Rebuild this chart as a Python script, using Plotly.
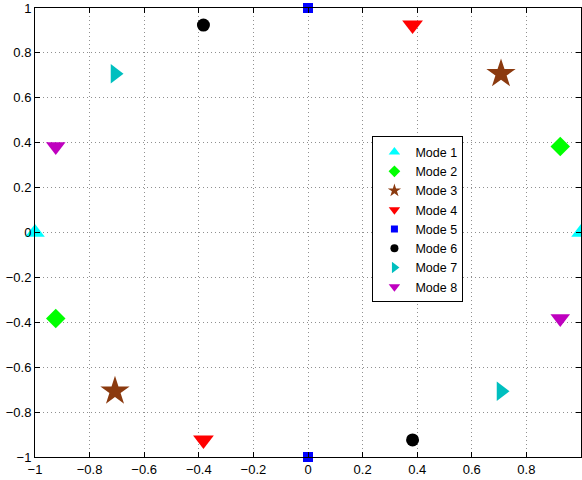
import plotly.graph_objects as go

modes = ["Mode 1", "Mode 2", "Mode 3", "Mode 4", "Mode 5", "Mode 6", "Mode 7", "Mode 8"]
xs = [[-1.0, 1.0], [0.924, -0.924], [0.707, -0.707], [0.383, -0.383],
      [0.0, 0.0], [-0.383, 0.383], [-0.707, 0.707], [-0.924, 0.924]]
ys = [[0.0, 0.0], [0.383, -0.383], [0.707, -0.707], [0.924, -0.924],
      [1.0, -1.0], [0.924, -0.924], [0.707, -0.707], [0.383, -0.383]]
symbols = ["triangle-up", "diamond", "star", "triangle-down", "square", "circle", "triangle-right", "triangle-down"]
colors = ["#00FFFF", "#00FF00", "#8B3A0F", "#FF0000", "#0000FF", "#000000", "#00BFBF", "#BF00BF"]
sizes = [17, 15, 22, 18, 10, 13, 17, 17]
legend_sizes = [10, 9, 10, 10, 7, 8, 10, 10]
tickvals = [-1, -0.8, -0.6, -0.4, -0.2, 0, 0.2, 0.4, 0.6, 0.8, 1]
ticktext = ["\u22121", "\u22120.8", "\u22120.6", "\u22120.4", "\u22120.2", "0", "0.2", "0.4", "0.6", "0.8", "1"]

fig = go.Figure()
for m, x, y, s, c, z, lz in zip(modes, xs, ys, symbols, colors, sizes, legend_sizes):
    fig.add_trace(go.Scatter(x=x, y=y, mode="markers", name=m, cliponaxis=False, showlegend=False,
                             marker=dict(symbol=s, color=c, size=z, line=dict(width=0))))
    fig.add_trace(go.Scatter(x=[None], y=[None], mode="markers", name=m, showlegend=True,
                             marker=dict(symbol=s, color=c, size=lz, line=dict(width=0))))

axis = dict(range=[-1, 1], tickvals=tickvals, ticktext=ticktext, tickangle=0,
            ticks="inside", ticklen=5, tickcolor="black", automargin=False,
            showline=True, linecolor="black", linewidth=1, mirror="ticks",
            showgrid=True, gridcolor="#909090", griddash="1px,3px", gridwidth=1,
            zeroline=False, tickfont=dict(family="Liberation Sans, Arial", size=13, color="black"))
fig.update_layout(
    width=582, height=480, margin=dict(l=35, r=1, t=8, b=23),
    paper_bgcolor="white", plot_bgcolor="white",
    xaxis=axis, yaxis=axis,
    legend=dict(x=0.618, y=0.714, xanchor="left", yanchor="top",
                bgcolor="white", bordercolor="black", borderwidth=1,
                font=dict(family="Liberation Sans, Arial", size=12.5, color="black"),
                itemsizing="trace", tracegroupgap=0, itemwidth=32),
    showlegend=True,
)
fig.write_html("out.html")
